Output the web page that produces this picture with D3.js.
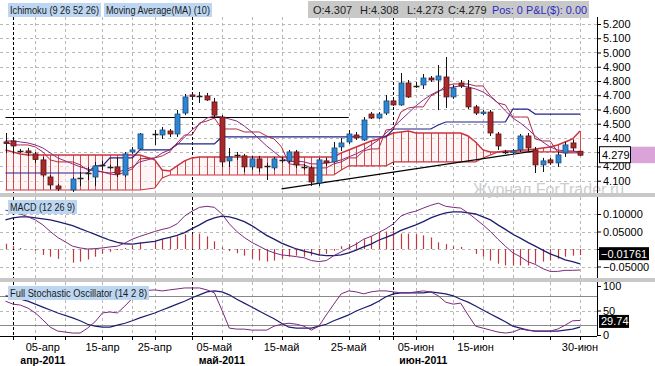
<!DOCTYPE html>
<html>
<head>
<meta charset="utf-8">
<script src="https://cdn.jsdelivr.net/npm/d3@7/dist/d3.min.js"></script>
<style>
html,body{margin:0;padding:0;background:#fff;}
svg{display:block;}
text{font-family:"Liberation Sans",Arial,sans-serif;}
</style>
</head>
<body>
<svg id="chart" width="655" height="366"></svg>
<script>
// ---------- DATA ----------
const sessions = ["31.03","01.04","03.04","04.04","05.04","06.04","07.04","08.04","10.04","11.04",
"12.04","13.04","14.04","15.04","17.04","18.04","19.04","20.04","21.04","22.04",
"24.04","25.04","26.04","27.04","28.04","29.04","01.05","02.05","03.05","04.05",
"05.05","06.05","08.05","09.05","10.05","11.05","12.05","13.05","15.05","16.05",
"17.05","18.05","19.05","20.05","22.05","23.05","24.05","25.05","26.05","27.05",
"29.05","30.05","31.05","01.06","02.06","03.06","05.06","06.06","07.06","08.06",
"09.06","10.06","12.06","13.06","14.06","15.06","16.06","17.06","19.06","20.06",
"21.06","22.06","23.06","24.06","27.06","28.06","29.06","30.06"];

const open = [4.372,4.379,4.309,4.309,4.288,4.246,4.126,4.063,null,4.035,
4.126,4.161,4.126,4.211,4.197,4.197,4.140,4.302,4.323,null,
4.428,4.421,4.449,4.428,4.575,4.702,4.695,4.695,4.653,4.547,
4.239,4.281,4.274,4.197,4.253,4.204,4.190,4.246,4.239,4.302,
4.197,4.190,4.084,4.239,4.232,4.337,4.372,4.421,4.386,4.568,
4.540,4.575,4.660,4.632,4.786,4.772,4.772,4.821,4.807,4.828,
4.688,4.786,4.751,4.618,4.575,4.582,4.428,4.302,4.302,4.316,
4.414,4.316,4.211,4.246,4.225,4.295,4.365,4.307];
const high = [4.435,4.393,4.323,4.330,4.302,4.267,4.140,4.077,null,4.126,
4.161,4.197,4.232,4.239,4.211,4.260,4.302,4.337,4.435,null,
4.456,4.477,4.463,4.596,4.709,4.709,4.723,4.716,4.681,4.561,
4.330,4.302,4.288,4.274,4.274,4.225,4.267,4.267,4.316,4.316,
4.218,4.204,4.260,4.260,4.372,4.400,4.456,4.442,4.547,4.582,
4.582,4.702,4.674,4.856,4.807,4.793,4.849,4.835,4.912,4.968,
4.772,4.807,4.807,4.632,4.596,4.596,4.442,4.316,4.323,4.428,
4.435,4.337,4.260,4.260,4.302,4.372,4.386,4.308];
const low = [4.295,4.288,4.295,4.274,4.225,4.126,4.042,4.028,null,4.021,
4.063,4.105,4.063,4.176,4.183,4.126,4.126,4.288,4.316,null,
4.351,4.393,4.407,4.407,4.561,4.688,4.646,4.660,4.547,4.197,
4.197,4.246,4.161,4.176,4.161,4.105,4.176,4.225,4.225,4.190,
4.176,4.063,4.063,4.204,4.225,4.309,4.358,4.386,4.379,4.533,
4.533,4.561,4.625,4.625,4.681,4.751,4.744,4.793,4.596,4.611,
4.674,4.751,4.603,4.561,4.561,4.414,4.316,4.288,4.288,4.302,
4.309,4.154,4.161,4.211,4.197,4.267,4.309,4.273];
const close = [4.365,4.344,4.305,4.295,4.249,4.140,4.070,4.042,null,4.112,
4.122,4.157,4.204,4.207,4.196,4.147,4.288,4.316,4.428,null,
4.425,4.456,4.428,4.568,4.688,4.695,4.692,4.667,4.561,4.232,
4.267,4.278,4.197,4.253,4.190,4.200,4.253,4.243,4.302,4.211,
4.193,4.091,4.246,4.225,4.330,4.365,4.428,4.400,4.526,4.540,
4.568,4.660,4.632,4.786,4.688,4.768,4.821,4.807,4.835,4.688,
4.751,4.765,4.618,4.575,4.582,4.435,4.344,4.298,4.309,4.414,
4.330,4.211,4.239,4.225,4.281,4.351,4.330,4.279];

const tenkan = [4.372,4.351,4.351,4.351,4.337,4.302,4.246,4.232,null,4.232,
4.211,4.175,4.175,4.161,4.147,4.140,4.161,4.183,4.253,null,
4.260,4.274,4.302,4.365,4.421,4.421,4.505,4.519,4.540,4.463,
4.463,4.463,4.442,4.442,4.442,4.414,4.393,4.337,4.218,4.211,
4.211,4.190,4.190,4.190,4.218,4.232,4.260,4.260,4.309,4.323,
4.323,4.456,4.463,4.582,4.611,4.618,4.618,4.695,4.723,4.765,
4.779,4.779,4.779,4.765,4.765,4.695,4.646,4.632,4.547,4.547,
4.547,4.393,4.379,4.379,4.302,4.295,4.295,4.295];
const kijun = [4.154,4.154,4.154,4.154,4.154,4.154,4.154,4.154,null,4.154,
4.154,4.154,4.204,4.204,4.260,4.260,4.260,4.260,4.316,null,
4.316,4.316,4.316,4.358,4.358,4.358,4.358,4.358,4.358,4.407,
4.407,4.407,4.407,4.407,4.407,4.407,4.407,4.407,4.407,4.407,
4.407,4.407,4.407,4.407,4.407,4.407,4.407,4.407,4.407,4.407,
4.407,4.407,4.463,4.463,4.463,4.463,4.463,4.463,4.491,4.512,
4.512,4.512,4.512,4.512,4.512,4.512,4.512,4.512,4.603,4.603,
4.603,4.568,4.568,4.568,4.568,4.568,4.568,4.568];
const spanA = [4.316,4.302,4.288,4.281,4.281,4.281,4.281,4.281,null,4.281,
4.281,4.281,4.281,4.281,4.281,4.281,4.281,4.281,4.281,null,
4.246,4.175,4.168,4.204,4.239,4.260,4.267,4.267,4.267,4.267,
4.267,4.267,4.267,4.267,4.267,4.267,4.267,4.267,4.267,4.267,
4.267,4.267,4.267,4.267,4.267,4.295,4.316,4.337,4.358,4.379,
4.393,4.414,4.435,4.442,4.449,4.435,4.435,4.435,4.435,4.435,
4.435,4.435,4.414,4.372,4.316,4.302,4.302,4.309,4.309,4.316,
4.316,4.323,4.330,4.337,4.351,4.372,4.393,4.449];
const spanB = [4.035,4.035,4.035,4.035,4.035,4.035,4.035,4.035,null,4.035,
4.035,4.035,4.035,4.035,4.035,4.035,4.035,4.035,4.035,null,
4.049,4.119,4.140,4.140,4.140,4.140,4.140,4.140,4.140,4.140,
4.140,4.140,4.140,4.140,4.140,4.140,4.140,4.140,4.140,4.140,
4.140,4.140,4.140,4.140,4.140,4.175,4.204,4.204,4.204,4.204,
4.204,4.204,4.232,4.232,4.232,4.232,4.232,4.232,4.232,4.232,
4.232,4.232,4.232,4.232,4.260,4.281,4.302,4.302,4.302,4.302,
4.302,4.302,4.302,4.302,4.302,4.302,4.302,4.302];
const ma10 = [4.379,4.379,4.372,4.365,4.351,4.330,4.295,4.260,null,4.218,
4.197,4.183,4.168,4.161,4.154,4.161,4.176,4.197,4.232,null,
4.260,4.295,4.316,4.351,4.407,4.456,4.498,4.540,4.554,4.547,
4.533,4.519,4.484,4.442,4.393,4.344,4.302,4.260,4.232,4.239,
4.232,4.218,4.218,4.225,4.232,4.246,4.267,4.288,4.316,4.351,
4.386,4.435,4.477,4.526,4.575,4.625,4.667,4.702,4.730,4.744,
4.758,4.765,4.758,4.744,4.723,4.688,4.646,4.590,4.540,4.505,
4.463,4.414,4.372,4.337,4.316,4.309,4.309,4.302];

const macd = [0.111,0.106,0.100,0.092,0.083,0.069,0.050,0.033,null,0.008,
0.003,0.000,0.001,0.003,0.006,0.008,0.017,0.028,0.036,null,
0.050,0.056,0.061,0.072,0.094,0.108,0.119,0.122,0.119,0.100,
0.072,0.050,0.033,0.019,0.008,-0.003,-0.011,-0.017,-0.019,-0.022,
-0.025,-0.033,-0.036,-0.033,-0.019,-0.008,0.003,0.014,0.028,0.036,
0.047,0.058,0.072,0.094,0.103,0.108,0.117,0.125,0.131,0.122,
0.119,0.117,0.103,0.086,0.069,0.050,0.028,0.008,-0.011,-0.022,
-0.036,-0.044,-0.056,-0.064,-0.064,-0.061,-0.061,-0.060];
const signal = [0.083,0.089,0.092,0.092,0.089,0.086,0.083,0.078,null,0.067,
0.058,0.050,0.042,0.033,0.025,0.019,0.015,0.014,0.017,null,
0.022,0.028,0.033,0.039,0.047,0.058,0.069,0.081,0.089,0.094,
0.092,0.086,0.078,0.067,0.053,0.039,0.028,0.017,0.008,0.000,
-0.006,-0.011,-0.017,-0.019,-0.019,-0.017,-0.011,-0.003,0.006,0.014,
0.025,0.033,0.042,0.053,0.061,0.069,0.078,0.089,0.097,0.103,
0.106,0.106,0.103,0.100,0.092,0.083,0.069,0.056,0.042,0.031,
0.019,0.008,-0.003,-0.014,-0.022,-0.031,-0.036,-0.0424];
const histogram = [0.015,0.008,0.003,0.000,-0.005,-0.017,-0.022,-0.028,null,-0.039,
-0.036,-0.030,-0.022,-0.014,-0.008,-0.003,0.003,0.010,0.019,null,
0.022,0.028,0.033,0.036,0.042,0.042,0.044,0.036,0.022,0.005,
-0.006,-0.012,-0.019,-0.028,-0.033,-0.036,-0.033,-0.028,-0.022,-0.019,
-0.022,-0.019,-0.019,-0.014,-0.005,0.008,0.014,0.019,0.028,0.036,
0.047,0.050,0.053,0.044,0.044,0.042,0.039,0.033,0.019,0.014,
0.008,0.006,0.000,-0.014,-0.022,-0.033,-0.042,-0.047,-0.047,-0.047,
-0.047,-0.042,-0.036,-0.033,-0.028,-0.022,-0.019,-0.01761];

const stochK = [69,63,61,55,45,31,16,8,null,4,
4,14,27,45,47,45,59,75,90,null,
92,90,92,94,96,96,96,92,86,51,
14,12,12,10,10,10,18,22,24,22,
18,10,18,41,63,84,90,88,84,88,
90,90,88,86,86,88,90,88,80,67,
63,65,41,18,14,10,6,4,6,12,
10,8,8,8,12,20,29,29.74];
const stochD = [80,78,73,69,63,57,51,45,null,35,
29,22,18,16,16,20,24,29,35,null,
45,51,57,63,69,76,82,88,90,88,
82,73,65,57,49,41,33,24,16,14,
14,14,18,22,29,35,41,49,55,61,
69,78,84,86,86,86,86,88,86,84,
80,73,67,59,51,43,35,27,18,14,
10,8,8,8,8,10,12,16];

const priceTicks = [4.1,4.2,4.3,4.4,4.5,4.6,4.7,4.8,4.9,5.0,5.1,5.2];
const macdTicks = [-0.05,0,0.05,0.1];
const stochTicks = [0,50,100];
const stochLevels = [20,80];
const gridSessions = ["05.04","10.04","15.04","20.04","24.04","04.05","09.05","13.05","19.05","24.05","29.05","03.06","09.06","14.06","19.06","24.06","30.06"];
const monthSessions = ["01.04","29.04","31.05"];
const tickLabels = ["05-апр","15-апр","25-апр","05-май","15-май","25-май","05-июн","15-июн","30-июн"];
const tickSessions = ["06.04","15.04","24.04","03.05","13.05","24.05","03.06","13.06","30.06"];
const monthLabels = ["апр-2011","май-2011","июн-2011"];
const monthLabelSessions = ["06.04","04.05","05.06"];
const levelLine = {from:"31.03", to:"24.05", price:4.547};
const trendLine = [{s:"13.05", p:4.042},{s:"22.06", p:4.309}];
const last = {o:4.307, h:4.308, l:4.273, c:4.279};
const lastMacd = -0.01761;
const lastStoch = 29.74;

// ---------- SCALES ----------
const svg = d3.select('#chart');
const R = 597;
const x = d3.scalePoint().domain(sessions).range([5.5, 580]);
const yP = d3.scaleLinear().domain([4.1, 5.2]).range([180.7, 24]);
const yM = d3.scaleLinear().domain([-0.05, 0.1]).range([266.5, 214]);
const yS = d3.scaleLinear().domain([0, 100]).range([335, 286]);
const panels = {main:{top:17,bottom:193}, macd:{top:197,bottom:278}, stoch:{top:282,bottom:336}};
const px = s => Math.round(x(s)) + 0.5;

const defs = svg.append('defs');
Object.entries(panels).forEach(([k,p])=>{
  defs.append('clipPath').attr('id','clip-'+k).append('rect')
    .attr('x',0).attr('y',p.top).attr('width',R).attr('height',p.bottom-p.top);
});

function panelGroup(key, yScale, yTicks){
  const p = panels[key];
  const g = svg.append('g').attr('clip-path',`url(#clip-${key})`);
  yTicks.forEach(t=>{
    const yy = Math.round(yScale(t))+0.5;
    g.append('line').attr('x1',0).attr('x2',R).attr('y1',yy).attr('y2',yy)
      .attr('stroke','#b8b8b8').attr('stroke-dasharray','3,3');
  });
  gridSessions.forEach(s=>{
    g.append('line').attr('x1',px(s)).attr('x2',px(s)).attr('y1',p.top).attr('y2',p.bottom)
      .attr('stroke','#b8b8b8').attr('stroke-dasharray','3,3');
  });
  monthSessions.forEach(s=>{
    g.append('line').attr('x1',px(s)).attr('x2',px(s)).attr('y1',p.top).attr('y2',p.bottom)
      .attr('stroke','#000').attr('stroke-dasharray','3,2');
  });
  return g;
}
const ser = arr => sessions.map((s,i)=>({s, v:arr[i]})).filter(d=>d.v!=null);
function drawLine(g, arr, yScale, color, w){
  g.append('path').datum(ser(arr)).attr('fill','none').attr('stroke',color).attr('stroke-width',w)
    .attr('d', d3.line().x(d=>x(d.s)).y(d=>yScale(d.v)));
}

// ---------- MAIN PANEL ----------
const gMain = panelGroup('main', yP, priceTicks);
// watermark (slightly under the panel separator, as in the original)
svg.append('text').attr('x',473).attr('y',195).attr('font-size','16px').attr('fill','#cdcdcd')
  .text('Журнал ForTrader.ru');

// cloud
const cloud = sessions.map((s,i)=>({s, a:spanA[i], b:spanB[i]})).filter(d=>d.a!=null);
gMain.append('path').datum(cloud).attr('fill','#fdeeee').attr('opacity',0.55)
  .attr('d', d3.area().x(d=>x(d.s)).y0(d=>yP(d.b)).y1(d=>yP(d.a)));
cloud.forEach(d=>{
  gMain.append('line').attr('x1',px(d.s)).attr('x2',px(d.s)).attr('y1',yP(d.a)).attr('y2',yP(d.b))
    .attr('stroke','#d24a4a').attr('stroke-width',1);
});
drawLine(gMain, spanA, yP, '#cc3340', 1.5);
drawLine(gMain, spanB, yP, '#cc3340', 1.1);

// drawn lines
gMain.append('line').attr('x1',x(levelLine.from)).attr('x2',x(levelLine.to))
  .attr('y1',Math.round(yP(levelLine.price))+0.5).attr('y2',Math.round(yP(levelLine.price))+0.5)
  .attr('stroke','#000').attr('stroke-width',1.2);
gMain.append('line').attr('x1',x(trendLine[0].s)).attr('y1',yP(trendLine[0].p))
  .attr('x2',x(trendLine[1].s)).attr('y2',yP(trendLine[1].p)).attr('stroke','#000').attr('stroke-width',1.2);

drawLine(gMain, kijun, yP, '#22228a', 1.2);
drawLine(gMain, tenkan, yP, '#b0283c', 1);
drawLine(gMain, ma10, yP, '#8a2a8a', 1);

// candles
const bars = sessions.map((s,i)=>({s,o:open[i],h:high[i],l:low[i],c:close[i]})).filter(d=>d.o!=null);
const cg = gMain.append('g');
bars.forEach(d=>{
  const xc = px(d.s);
  cg.append('line').attr('x1',xc).attr('x2',xc).attr('y1',yP(d.h)).attr('y2',yP(d.l))
    .attr('stroke','#111').attr('stroke-width',1);
  if (Math.abs(d.o-d.c) < 0.005){
    cg.append('line').attr('x1',xc-3).attr('x2',xc+3).attr('y1',Math.round(yP(d.c))+0.5).attr('y2',Math.round(yP(d.c))+0.5)
      .attr('stroke','#222').attr('stroke-width',1.5);
  } else {
    const up = d.c > d.o;
    const y1 = yP(Math.max(d.o,d.c)), y2 = yP(Math.min(d.o,d.c));
    cg.append('rect').attr('x',xc-2.5).attr('y',y1).attr('width',5).attr('height',Math.max(1.5,y2-y1))
      .attr('fill', up ? '#2c86d4' : '#a8282c').attr('stroke', up ? '#1c4f7e' : '#5c1416').attr('stroke-width',0.8);
  }
});

// ---------- MACD PANEL ----------
const gMacd = panelGroup('macd', yM, macdTicks);
ser(histogram).forEach(d=>{
  gMacd.append('line').attr('x1',px(d.s)).attr('x2',px(d.s)).attr('y1',yM(0)).attr('y2',yM(d.v))
    .attr('stroke','#c0393d').attr('stroke-width',1.2);
});
drawLine(gMacd, signal, yM, '#1e1e70', 1.3);
drawLine(gMacd, macd, yM, '#7b2a7b', 1);

// ---------- STOCH PANEL ----------
const gSt = panelGroup('stoch', yS, [50]);
stochLevels.forEach(l=>{
  const yy = Math.round(yS(l))+0.5;
  gSt.append('line').attr('x1',0).attr('x2',R).attr('y1',yy).attr('y2',yy).attr('stroke','#8a8a8a').attr('stroke-width',1);
});
drawLine(gSt, stochD, yS, '#1e1e70', 1.2);
drawLine(gSt, stochK, yS, '#7b2a7b', 1);

// separators
[193, 278].forEach(yy=>svg.append('rect').attr('x',0).attr('y',yy).attr('width',655).attr('height',4).attr('fill','#c8c8c8'));

// ---------- AXES ----------
const yc = yP(last.c), ym = yM(lastMacd), ys = yS(lastStoch);
function rightAxis(scale, ticks, fmt, boxY, gap){
  const g = svg.append('g').attr('transform',`translate(${R},0)`)
    .call(d3.axisRight(scale).tickValues(ticks)
      .tickFormat(d => Math.abs(scale(d)-boxY) < gap ? '' : fmt(d)).tickSize(4).tickSizeOuter(0));
  g.attr('font-family','"Liberation Sans",Arial,sans-serif').attr('font-size',11);
  g.select('.domain').remove();
  g.selectAll('.tick line').attr('stroke','#000');
  g.selectAll('.tick text').attr('fill','#000').attr('x',6);
  return g;
}
rightAxis(yP, priceTicks, d3.format('.3f'), yc, 10);
rightAxis(yM, macdTicks, d3.format('.5f'), ym, 8);
rightAxis(yS, stochTicks, d3.format('d'), ys, 4);
Object.values(panels).forEach(p=>{
  svg.append('line').attr('x1',R+0.5).attr('x2',R+0.5).attr('y1',p.top).attr('y2',p.bottom).attr('stroke','#000');
});

svg.append('rect').attr('x',599.5).attr('y',yc-8.5).attr('width',31).attr('height',16).attr('fill','#fff').attr('stroke','#000');
svg.append('rect').attr('x',631).attr('y',yc-8.5).attr('width',24).attr('height',16.5).attr('fill','#dba4d8');
svg.append('text').attr('x',602).attr('y',yc+4).attr('font-size','11px').attr('fill','#000').text(d3.format('.3f')(last.c));

svg.append('rect').attr('x',599).attr('y',ym-8).attr('width',50).attr('height',13).attr('fill','#000');
svg.append('text').attr('x',601).attr('y',ym+3).attr('font-size','11px').attr('fill','#fff').text(d3.format('.5f')(lastMacd));

svg.append('rect').attr('x',599).attr('y',ys-5.5).attr('width',30).attr('height',13).attr('fill','#000');
svg.append('text').attr('x',601).attr('y',ys+5).attr('font-size','11px').attr('fill','#fff').text(lastStoch.toFixed(2));

// bottom axis
svg.append('line').attr('x1',0).attr('x2',R).attr('y1',336.5).attr('y2',336.5).attr('stroke','#000');
gridSessions.concat(monthSessions).forEach(s=>{
  svg.append('line').attr('x1',px(s)).attr('x2',px(s)).attr('y1',336).attr('y2',340).attr('stroke','#000');
});
tickLabels.forEach((t,i)=>{
  svg.append('text').attr('x',x(tickSessions[i])).attr('y',351).attr('text-anchor','middle')
    .attr('font-size','11px').attr('fill','#000').text(t);
});
monthLabels.forEach((t,i)=>{
  svg.append('text').attr('x',x(monthLabelSessions[i])).attr('y',364).attr('text-anchor','middle')
    .attr('font-size','10.5px').attr('font-weight','bold').attr('fill','#000').text(t);
});

// ---------- LEGENDS / HEADER ----------
function legend(xx, yy, w, label){
  svg.append('rect').attr('x',xx).attr('y',yy).attr('width',w).attr('height',14).attr('fill','#bdd7f2');
  svg.append('text').attr('x',xx+2).attr('y',yy+11).attr('font-size','10px').attr('fill','#1a1a1a')
    .attr('textLength',w-4).attr('lengthAdjust','spacingAndGlyphs').text(label);
}
legend(8, 3, 93, 'Ichimoku (9 26 52 26)');
legend(104, 3, 108, 'Moving Average(MA) (10)');
legend(8, 200, 69, 'MACD (12 26 9)');
legend(8, 286, 141, 'Full Stochastic Oscillator (14 2 8)');

svg.append('rect').attr('x',308).attr('y',1).attr('width',281).attr('height',17).attr('fill','#c8c8c8');
const hdr = [['O:'+last.o.toFixed(3),313],['H:'+last.h.toFixed(3),360],['L:'+last.l.toFixed(3),407],['C:'+last.c.toFixed(3),448]];
hdr.forEach(([t,xx])=>svg.append('text').attr('x',xx).attr('y',14).attr('font-size','11px').attr('fill','#222').text(t));
svg.append('text').attr('x',492).attr('y',14).attr('font-size','11px').attr('fill','#2b2bc4')
  .attr('textLength',95).attr('lengthAdjust','spacingAndGlyphs').text('Pos: 0 P&L($): 0.00');
</script>
</body>
</html>
